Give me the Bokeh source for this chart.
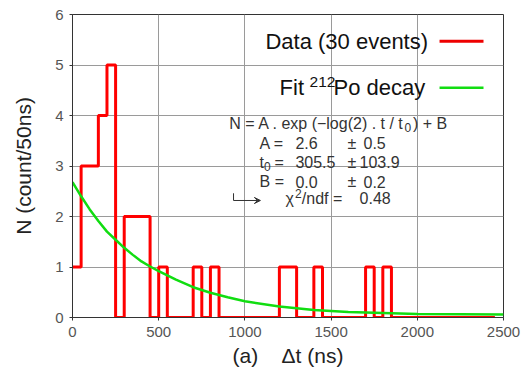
from bokeh.plotting import figure
from bokeh.models import Label, Arrow, VeeHead, FixedTicker, Range1d
from bokeh.embed import file_html
from bokeh.resources import INLINE

# ---- data ----
bin_width = 50
counts = [1, 3, 3, 4, 5, 0, 2, 2, 2, 0,
          1, 0, 0, 0, 1, 0, 1, 0, 0, 0,
          0, 0, 0, 0, 1, 1, 0, 0, 1, 0,
          0, 0, 0, 0, 1, 0, 1, 0, 0, 0,
          0, 0, 0, 0, 0, 0, 0, 0, 0]
fit_t = [0, 50, 100, 150, 200, 250, 300, 350, 400, 450, 500, 600, 700, 800,
         900, 1000, 1200, 1400, 1600, 1800, 2000, 2250, 2500]
fit_n = [2.68, 2.40, 2.14, 1.91, 1.70, 1.54, 1.38, 1.24, 1.11, 1.01, 0.92,
         0.75, 0.60, 0.49, 0.40, 0.32, 0.22, 0.15, 0.11, 0.09, 0.07, 0.065, 0.06]
x_ticks = [0, 500, 1000, 1500, 2000, 2500]
y_ticks = [0, 1, 2, 3, 4, 5, 6]

edges = [i * bin_width for i in range(len(counts) + 1)]
step_y = counts + [0]

FONT = "Liberation Sans"
TXT = "#333333"
NB = "\u00a0"

p = figure(width=523, height=371, output_backend="svg", toolbar_location=None,
           x_range=Range1d(0, 2500), y_range=Range1d(0, 6),
           min_border_left=72, min_border_right=20, min_border_top=14,
           min_border_bottom=54)
p.background_fill_color = "white"
p.border_fill_color = "white"
p.outline_line_color = "#333333"
p.outline_line_width = 1

for ax in (p.xaxis, p.yaxis):
    ax.axis_line_color = "#333333"
    ax.major_tick_in = 0
    ax.major_tick_out = 3
    ax.major_tick_line_color = "#333333"
    ax.minor_tick_line_color = None
    ax.major_label_text_font = FONT
    ax.major_label_text_font_size = "15px"
    ax.major_label_text_color = "#555555"
    ax.axis_label_text_font = FONT
    ax.axis_label_text_font_size = "21px"
    ax.axis_label_text_font_style = "normal"
    ax.axis_label_text_color = "#222222"

p.xaxis.ticker = FixedTicker(ticks=x_ticks)
p.yaxis.ticker = FixedTicker(ticks=y_ticks)
p.xaxis.major_label_standoff = 6
p.yaxis.major_label_standoff = 6
p.xaxis.axis_label = "(a)" + NB * 4 + "Δt (ns)"
p.yaxis.axis_label = "N (count/50ns)"
p.xaxis.axis_label_standoff = 4
p.yaxis.axis_label_standoff = 17

p.xgrid.ticker = FixedTicker(ticks=x_ticks)
p.ygrid.ticker = FixedTicker(ticks=y_ticks)
p.grid.grid_line_color = "#9a9a9a"
p.grid.grid_line_width = 1

p.step(edges, step_y, mode="after", line_color="#ff0000", line_width=3)
p.line(fit_t, fit_n, line_color="#11dd11", line_width=2.5)


def lab(x, y, t, size="16px", color=TXT, align="left"):
    p.add_layout(Label(x=x, y=y, text=t, text_align=align, text_baseline="middle",
                       text_font=FONT, text_font_size=size, text_color=color))


# legend (manual, transparent like the original)
lab(1119, 5.47, "Data (30 events)", size="22px", color="#111111")
lab(1201, 4.55, "Fit", size="22px", color="#111111")
lab(1375, 4.66, "212", size="15.5px", color="#111111")
lab(1514, 4.55, "Po decay", size="22px", color="#111111")
p.line([2129, 2384], [5.47, 5.47], line_color="#ee0000", line_width=3)
p.line([2129, 2384], [4.55, 4.55], line_color="#11dd11", line_width=2.5)

# fit result box
lab(1926, 3.84, "N = A . exp (−log(2) . t / t", align="right")
lab(1926, 3.76, "0", size="12px")
lab(1975, 3.84, ") + B")
rows = [(3.45, "A =", "2.6", "0.5", 1688),
        (3.07, None, "305.5", "103.9", 1665),
        (2.69, "B =", "0.0", "0.2", 1688)]
for y, a, b, c, cx in rows:
    if a is not None:
        lab(1085, y, a)
    lab(1293, y, b)
    lab(1595, y, "±")
    lab(cx, y, c)
lab(1085, 3.07, "t")
lab(1111, 2.99, "0", size="12px")
lab(1172, 3.07, "=")
lab(1235, 2.36, "χ")
lab(1290, 2.45, "2", size="12px")
lab(1330, 2.36, "/ndf =")
lab(1665, 2.36, "0.48")

p.add_layout(Arrow(end=None, x_start=934, y_start=2.46, x_end=934, y_end=2.317,
                   line_color=TXT, line_width=1))
p.add_layout(Arrow(end=VeeHead(size=6, line_color=TXT, line_width=1, fill_color=TXT),
                   x_start=934, y_start=2.317, x_end=1090, y_end=2.317,
                   line_color=TXT, line_width=1))

open("out.html", "w").write(file_html(p, INLINE))
